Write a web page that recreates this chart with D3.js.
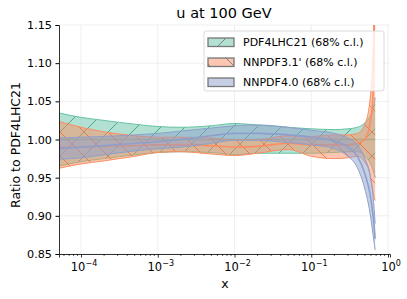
<!DOCTYPE html>
<html>
<head>
<meta charset="utf-8">
<script src="https://cdn.jsdelivr.net/npm/d3@7"></script>
<style>
  body { margin: 0; background: #fff; }
  text { font-family: "DejaVu Sans", sans-serif; fill: #000; }
</style>
</head>
<body>
<div id="container"></div>
<script>
// x grid of the curves
const xs = [5e-5, 1e-4, 2e-4, 5e-4, 1e-3, 2e-3, 5e-3, 1e-2, 2e-2, 5e-2, 0.1, 0.2, 0.3, 0.4, 0.5, 0.58, 0.64, 0.68]

// PDF4LHC21
const pdfUp = [1.035, 1.029, 1.025, 1.020, 1.017, 1.016, 1.018, 1.021, 1.019, 1.016, 1.014, 1.013, 1.014, 1.016, 1.022, 1.030, 1.040, 1.055]
const pdfMid = [1, 1, 1, 1, 1, 1, 1, 1, 1, 1, 1, 1, 1, 1, 1, 1, 1, 1]
const pdfLo = [0.965, 0.971, 0.975, 0.980, 0.983, 0.984, 0.983, 0.980, 0.982, 0.982, 0.982, 0.983, 0.984, 0.984, 0.978, 0.970, 0.960, 0.950]

// NNPDF3.1'
const nn31Up = [1.024, 1.016, 1.010, 1.005, 1.003, 1.003, 1.002, 1.000, 1.000, 1.005, 1.004, 1.006, 1.006, 1.008, 1.020, 1.050, 1.120, 1.350]
const nn31Mid = [0.990, 0.990, 0.991, 0.992, 0.993, 0.993, 0.992, 0.990, 0.991, 0.995, 0.993, 0.993, 0.993, 0.995, 1.000, 1.020, 1.060, 1.250]
const nn31Lo = [0.962, 0.968, 0.972, 0.978, 0.983, 0.984, 0.981, 0.979, 0.982, 0.987, 0.978, 0.975, 0.976, 0.978, 0.970, 0.955, 0.930, 0.920]

// NNPDF4.0
const nn40Up = [1.002, 1.003, 1.004, 1.006, 1.008, 1.011, 1.015, 1.018, 1.019, 1.016, 1.012, 1.008, 1.002, 0.993, 0.975, 0.955, 0.925, 0.890]
const nn40Mid = [0.988, 0.990, 0.992, 0.995, 0.997, 1.000, 1.005, 1.008, 1.008, 1.006, 1.003, 0.998, 0.990, 0.978, 0.955, 0.930, 0.900, 0.870]
const nn40Lo = [0.974, 0.976, 0.980, 0.985, 0.988, 0.990, 0.995, 0.999, 0.999, 0.996, 0.993, 0.988, 0.978, 0.963, 0.935, 0.905, 0.875, 0.855]

const yTicks = [0.85, 0.90, 0.95, 1.00, 1.05, 1.10, 1.15]
const xTicks = [1e-4, 1e-3, 1e-2, 1e-1, 1]
const xTickLabels = ['−4', '−3', '−2', '−1', '0']

const series = [
  { name: 'PDF4LHC21 (68% c.l.)', color: '#66c2a5', hatch: 'fwd', up: pdfUp, mid: pdfMid, lo: pdfLo },
  { name: "NNPDF3.1' (68% c.l.)", color: '#fc8d62', hatch: 'back', up: nn31Up, mid: nn31Mid, lo: nn31Lo },
  { name: 'NNPDF4.0 (68% c.l.)', color: '#8da0cb', hatch: null, up: nn40Up, mid: nn40Mid, lo: nn40Lo }
]

const w = 407
const h = 299
const mLeft = 59, mRight = 390, mTop = 25, mBottom = 254

const svg = d3.select('#container')
  .append('svg')
  .attr('width', w)
  .attr('height', h)

const x = d3.scaleLog()
  .domain([Math.pow(10, -4.287), Math.pow(10, 0.026)])
  .range([mLeft, mRight])

const y = d3.scaleLinear()
  .domain([0.85, 1.15])
  .range([mBottom, mTop])

const defs = svg.append('defs')

defs.append('clipPath').attr('id', 'clip')
  .append('rect')
  .attr('x', mLeft).attr('y', mTop)
  .attr('width', mRight - mLeft).attr('height', mBottom - mTop)

//hatch patterns
const makeHatch = (id, dir, color, size) => {
  const p = defs.append('pattern')
    .attr('id', id)
    .attr('patternUnits', 'userSpaceOnUse')
    .attr('width', size).attr('height', size)
  const d = dir === 'fwd'
    ? `M0,${size} L${size},0 M${-size / 2},${size / 2} L${size / 2},${-size / 2} M${size / 2},${size * 1.5} L${size * 1.5},${size / 2}`
    : `M0,0 L${size},${size} M${-size / 2},${size / 2} L${size / 2},${size * 1.5} M${size / 2},${-size / 2} L${size * 1.5},${size / 2}`
  p.append('path')
    .attr('d', d)
    .attr('stroke', color)
    .attr('stroke-width', 0.9)
}
makeHatch('h-0', 'fwd', '#3f9e80', 24)
makeHatch('h-1', 'back', '#f0703f', 24)
makeHatch('lh-0', 'fwd', '#777', 24)
makeHatch('lh-1', 'back', '#777', 24)

//grid
svg.append('g')
  .selectAll('line.gx')
  .data(xTicks)
  .enter()
  .append('line')
  .attr('x1', d => x(d)).attr('x2', d => x(d))
  .attr('y1', mTop).attr('y2', mBottom)
  .attr('stroke', '#ebebeb').attr('stroke-width', 0.8)

svg.append('g')
  .selectAll('line.gy')
  .data(yTicks)
  .enter()
  .append('line')
  .attr('x1', mLeft).attr('x2', mRight)
  .attr('y1', d => y(d)).attr('y2', d => y(d))
  .attr('stroke', '#ebebeb').attr('stroke-width', 0.8)

const plot = svg.append('g').attr('clip-path', 'url(#clip)')

series.forEach((s, i) => {
  const rows = xs.map((xv, k) => ({ x: xv, up: s.up[k], mid: s.mid[k], lo: s.lo[k] }))
  const area = d3.area()
    .x(d => x(d.x))
    .y0(d => y(d.lo))
    .y1(d => y(d.up))
    .curve(d3.curveMonotoneX)
  const line = key => d3.line()
    .x(d => x(d.x))
    .y(d => y(d[key]))
    .curve(d3.curveMonotoneX)

  plot.append('path')
    .datum(rows)
    .attr('d', area)
    .attr('fill', s.color)
    .attr('fill-opacity', 0.5)

  if (s.hatch) {
    plot.append('path')
      .datum(rows)
      .attr('d', area)
      .attr('fill', `url(#h-${i})`)
  }

  ;['up', 'lo'].forEach(k => {
    plot.append('path')
      .datum(rows)
      .attr('d', line(k))
      .attr('fill', 'none')
      .attr('stroke', s.color)
      .attr('stroke-width', 1)
  })

  plot.append('path')
    .datum(rows)
    .attr('d', line('mid'))
    .attr('fill', 'none')
    .attr('stroke', s.color)
    .attr('stroke-width', 1.6)
})

//axes
const yAxis = svg.append('g')
  .attr('transform', `translate(${mLeft},0)`)
  .call(d3.axisLeft(y).tickValues(yTicks).tickFormat(d3.format('.2f')).tickSize(3.5).tickPadding(3.5))
yAxis.select('.domain').attr('stroke', '#000').attr('stroke-width', 0.8)
yAxis.selectAll('text').attr('font-size', 11.2).attr('font-family', 'DejaVu Sans')

const minorTicks = []
for (let e = -5; e < 0; e++) {
  for (let m = 2; m < 10; m++) {
    const v = m * Math.pow(10, e)
    if (v > x.domain()[0] && v < x.domain()[1]) minorTicks.push(v)
  }
}

const xAxis = svg.append('g')
  .attr('transform', `translate(0,${mBottom})`)
xAxis.call(d3.axisBottom(x).tickValues(xTicks).tickFormat('').tickSize(3.5))
xAxis.select('.domain').attr('stroke', '#000').attr('stroke-width', 0.8)
xAxis.selectAll('.tick line').attr('stroke-width', 0.8)

xAxis.selectAll('line.minor')
  .data(minorTicks)
  .enter()
  .append('line')
  .attr('class', 'minor')
  .attr('x1', d => x(d)).attr('x2', d => x(d))
  .attr('y1', 0).attr('y2', 2)
  .attr('stroke', '#000').attr('stroke-width', 0.6)

const xl = xAxis.selectAll('text.lab')
  .data(xTicks)
  .enter()
  .append('text')
  .attr('class', 'lab')
  .attr('x', d => x(d) + 3)
  .attr('y', 17)
  .attr('text-anchor', 'middle')
  .attr('font-size', 11.5)
xl.append('tspan').text('10')
xl.append('tspan')
  .attr('dy', -5)
  .attr('font-size', 8)
  .text((d, i) => xTickLabels[i])

//labels
svg.append('text')
  .attr('x', 224)
  .attr('y', 18.3)
  .attr('text-anchor', 'middle')
  .attr('font-size', 14.5)
  .text('u at 100 GeV')

svg.append('text')
  .attr('x', 225)
  .attr('y', 288)
  .attr('text-anchor', 'middle')
  .attr('font-size', 12.5)
  .text('x')

svg.append('text')
  .attr('transform', `translate(19.5,145) rotate(-90)`)
  .attr('text-anchor', 'middle')
  .attr('font-size', 12.5)
  .text('Ratio to PDF4LHC21')

//legend
const legend = svg.append('g')
legend.append('rect')
  .attr('x', 204).attr('y', 31)
  .attr('width', 180).attr('height', 60)
  .attr('rx', 2.5)
  .attr('fill', '#fff').attr('fill-opacity', 0.8)
  .attr('stroke', '#d0d0d0').attr('stroke-width', 0.8)

series.forEach((s, i) => {
  const ly = 42 + i * 20
  legend.append('rect')
    .attr('x', 208).attr('y', ly - 4)
    .attr('width', 26).attr('height', 8.5)
    .attr('fill', s.color).attr('fill-opacity', 0.5)
  if (s.hatch) {
    legend.append('rect')
      .attr('x', 208).attr('y', ly - 4)
      .attr('width', 26).attr('height', 8.5)
      .attr('fill', `url(#lh-${i})`)
  }
  legend.append('rect')
    .attr('x', 208).attr('y', ly - 4)
    .attr('width', 26).attr('height', 8.5)
    .attr('fill', 'none')
    .attr('stroke', '#777').attr('stroke-width', 1.3)
  legend.append('text')
    .attr('x', 243).attr('y', ly + 4)
    .attr('font-size', 11)
    .text(s.name)
})
</script>
</body>
</html>
